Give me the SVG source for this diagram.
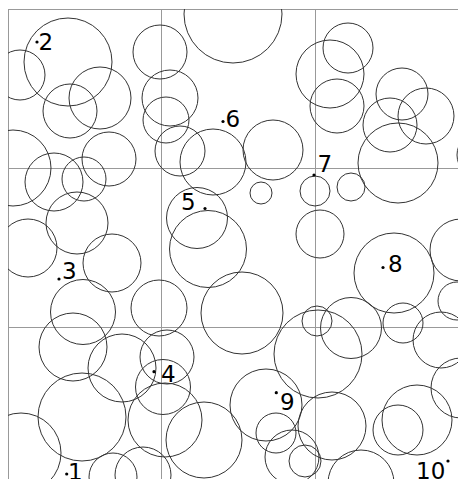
<svg xmlns="http://www.w3.org/2000/svg" width="458" height="479" viewBox="0 0 458 479">
<style>
.c{fill:none;stroke:#333;stroke-width:1}
.g{stroke:#999;stroke-width:1;fill:none}
.t{font-family:"DejaVu Sans",sans-serif;font-size:23px;fill:#000}
.d{fill:#000}
</style>
<defs><clipPath id="clip"><rect x="8" y="9" width="450" height="470"/></clipPath></defs>
<rect width="458" height="479" fill="#fff"/>
<g id="grid">
<line class="g" x1="8.5" y1="9" x2="8.5" y2="479"/>
<line class="g" x1="161.5" y1="9" x2="161.5" y2="479"/>
<line class="g" x1="315.5" y1="9" x2="315.5" y2="479"/>
<line class="g" x1="8" y1="9.5" x2="458" y2="9.5"/>
<line class="g" x1="8" y1="168.5" x2="458" y2="168.5"/>
<line class="g" x1="8" y1="327.5" x2="458" y2="327.5"/>
</g>
<g id="circles" clip-path="url(#clip)">
<circle class="c" cx="68" cy="62" r="44"/>
<circle class="c" cx="20" cy="75" r="25"/>
<circle class="c" cx="70" cy="111" r="27"/>
<circle class="c" cx="100" cy="98" r="31"/>
<circle class="c" cx="13" cy="168" r="38"/>
<circle class="c" cx="109" cy="159" r="27"/>
<circle class="c" cx="54" cy="182" r="29"/>
<circle class="c" cx="84" cy="179" r="22"/>
<circle class="c" cx="160" cy="52" r="27"/>
<circle class="c" cx="170" cy="98" r="28"/>
<circle class="c" cx="166" cy="120" r="23"/>
<circle class="c" cx="233" cy="14" r="49"/>
<circle class="c" cx="180" cy="151" r="25"/>
<circle class="c" cx="213" cy="162" r="33"/>
<circle class="c" cx="273" cy="150" r="30"/>
<circle class="c" cx="348" cy="48" r="25"/>
<circle class="c" cx="330" cy="74" r="34"/>
<circle class="c" cx="337" cy="106" r="27"/>
<circle class="c" cx="402" cy="94" r="26"/>
<circle class="c" cx="426" cy="116" r="28"/>
<circle class="c" cx="390" cy="125" r="27"/>
<circle class="c" cx="398" cy="163" r="40"/>
<circle class="c" cx="480" cy="155" r="23"/>
<circle class="c" cx="261" cy="193" r="11"/>
<circle class="c" cx="315" cy="191" r="15"/>
<circle class="c" cx="351" cy="187" r="14"/>
<circle class="c" cx="320" cy="234" r="24"/>
<circle class="c" cx="197" cy="218" r="30.5"/>
<circle class="c" cx="208" cy="249" r="38.5"/>
<circle class="c" cx="28" cy="248" r="29"/>
<circle class="c" cx="77" cy="223" r="31"/>
<circle class="c" cx="112" cy="263" r="29"/>
<circle class="c" cx="394" cy="273" r="40"/>
<circle class="c" cx="461" cy="250" r="31"/>
<circle class="c" cx="83" cy="312" r="32.5"/>
<circle class="c" cx="159" cy="308" r="28"/>
<circle class="c" cx="242" cy="313" r="41"/>
<circle class="c" cx="457" cy="301" r="19"/>
<circle class="c" cx="317" cy="321" r="15"/>
<circle class="c" cx="318" cy="354" r="44"/>
<circle class="c" cx="351" cy="328" r="30.5"/>
<circle class="c" cx="403" cy="323" r="20"/>
<circle class="c" cx="441" cy="340" r="28"/>
<circle class="c" cx="461" cy="388" r="30"/>
<circle class="c" cx="73" cy="347" r="34"/>
<circle class="c" cx="122" cy="368" r="34"/>
<circle class="c" cx="167" cy="357" r="27"/>
<circle class="c" cx="163" cy="387" r="27.5"/>
<circle class="c" cx="82" cy="417" r="44"/>
<circle class="c" cx="165" cy="420" r="37"/>
<circle class="c" cx="204" cy="440" r="38"/>
<circle class="c" cx="21" cy="453" r="40"/>
<circle class="c" cx="113" cy="477" r="24"/>
<circle class="c" cx="143" cy="475" r="28"/>
<circle class="c" cx="266" cy="405" r="36"/>
<circle class="c" cx="332" cy="426" r="34"/>
<circle class="c" cx="398" cy="430" r="25"/>
<circle class="c" cx="417" cy="420" r="35"/>
<circle class="c" cx="276" cy="433" r="20"/>
<circle class="c" cx="292" cy="457" r="27"/>
<circle class="c" cx="305" cy="461" r="16"/>
<circle class="c" cx="361" cy="483" r="33"/>
</g>
<g id="labels">
<circle class="d" cx="37" cy="42" r="1.6"/><text class="t" x="38.5" y="50">2</text>
<circle class="d" cx="223" cy="121.5" r="1.6"/><text class="t" x="225.5" y="126.5">6</text>
<circle class="d" cx="314" cy="175" r="1.6"/><text class="t" x="317.5" y="172">7</text>
<circle class="d" cx="205" cy="208.5" r="1.6"/><text class="t" x="181" y="210">5</text>
<circle class="d" cx="59" cy="279" r="1.6"/><text class="t" x="62" y="278.5">3</text>
<circle class="d" cx="383" cy="267.5" r="1.6"/><text class="t" x="388" y="271.7">8</text>
<circle class="d" cx="154" cy="371.7" r="1.6"/><text class="t" x="161" y="382">4</text>
<circle class="d" cx="276.3" cy="392.7" r="1.6"/><text class="t" x="280" y="410">9</text>
<circle class="d" cx="66.7" cy="474" r="1.6"/><text class="t" x="68" y="480">1</text>
<circle class="d" cx="448" cy="461" r="1.6"/><text class="t" x="416" y="479">10</text>
</g>
</svg>
